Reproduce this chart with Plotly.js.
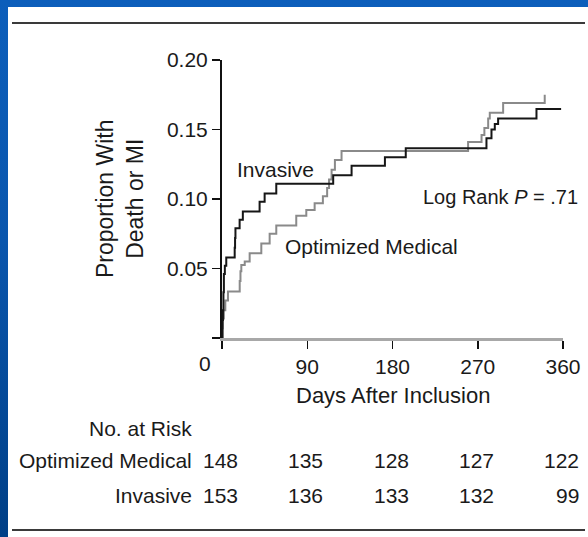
<!DOCTYPE html>
<html>
<head>
<meta charset="utf-8">
<script src="https://cdn.plot.ly/plotly-3.0.1.min.js"></script>
<style>
  html, body { margin: 0; padding: 0; }
  body { width: 588px; height: 537px; overflow: hidden;
         background: linear-gradient(180deg, #0c5ebb 0%, #0a56ad 45%, #003f86 100%); position: relative; }
  #chart { position: absolute; left: 8px; top: 7px; width: 580px; height: 530px; background: #fff; }
</style>
</head>
<body>
<div id="chart"></div>
<script>
// ---- data ----
const invasiveDays = [0, 0.5, 1, 1.5, 2, 3, 4.5, 13.4, 13.8, 14.2, 18.6, 22, 39.7, 45, 57.3, 117.4, 136.8, 172, 194, 279.2, 284.5, 288, 291.5, 332, 358];
const invasiveProp = [0, 0.013, 0.020, 0.033, 0.046, 0.052, 0.058, 0.065, 0.072, 0.079, 0.085, 0.091, 0.098, 0.104, 0.111, 0.117, 0.124, 0.130, 0.1365, 0.1437, 0.150, 0.154, 0.158, 0.1647, 0.1647];

const medicalDays = [0, 0.5, 1, 2, 3.5, 6.3, 18.7, 19.5, 20.4, 24, 29.2, 41.5, 50.3, 57.3, 78.4, 89, 97.8, 106.5, 111, 113, 115.7, 119.2, 126.2, 259.8, 274, 277, 281, 282.7, 296.8, 340.7, 340.7];
const medicalProp = [0, 0.007, 0.014, 0.020, 0.027, 0.0335, 0.041, 0.048, 0.0525, 0.055, 0.061, 0.068, 0.075, 0.081, 0.088, 0.092, 0.097, 0.102, 0.108, 0.114, 0.121, 0.128, 0.1345, 0.141, 0.146, 0.151, 0.158, 0.162, 0.169, 0.169, 0.175];

const xTickVals = [0, 90, 180, 270, 360];
const xTickText = ['', '90', '180', '270', '360'];
const yTickVals = [0, 0.05, 0.10, 0.15, 0.20];
const yTickText = ['', '0.05', '0.10', '0.15', '0.20'];

const riskGroups = ['Optimized Medical', 'Invasive'];
const riskMedical = [148, 135, 128, 127, 122];
const riskInvasive = [153, 136, 133, 132, 99];
const riskDays = [0, 90, 180, 270, 360];

// ---- layout geometry ----
const W = 580, H = 530;
const M = { l: 214, r: 25, t: 53, b: 199 };
const PW = W - M.l - M.r, PH = H - M.t - M.b;
const FONT = 'Liberation Sans, Arial, Helvetica, sans-serif';
const TXT = '#1a1a1a';
// page pixel -> paper coords (div offset 8,7)
const px = p => (p - 8 - M.l) / PW;
const py = p => (H - M.b - (p - 7)) / PH;

const traces = [
  { x: medicalDays, y: medicalProp, type: 'scatter', mode: 'lines', line: { shape: 'hv', color: '#8a8a8a', width: 2 }, hoverinfo: 'skip' },
  { x: invasiveDays, y: invasiveProp, type: 'scatter', mode: 'lines', line: { shape: 'hv', color: '#161616', width: 2 }, hoverinfo: 'skip' }
];

const ann = [];
function addText(text, opts) {
  ann.push(Object.assign({ text: text, showarrow: false, font: { family: FONT, size: 21, color: TXT } }, opts));
}
// labels inside the plot
addText('Invasive', { xref: 'x', yref: 'y', x: 56, y: 0.121, xanchor: 'center', yanchor: 'middle' });
addText('Optimized Medical', { xref: 'x', yref: 'y', x: 64.5, y: 0.0655, xanchor: 'left', yanchor: 'middle' });
addText('Log Rank <i>P</i> = .71', { xref: 'x', yref: 'y', x: 210, y: 0.1015, xanchor: 'left', yanchor: 'middle', font: { family: FONT, size: 20, color: TXT } });
// x "0" label (offset left of tick)
addText('0', { xref: 'x', yref: 'paper', x: 0, y: 0, xshift: -17, yshift: -25, xanchor: 'center', yanchor: 'middle' });
// axis titles
addText('Days After Inclusion', { xref: 'paper', yref: 'paper', x: 0.5, y: 0, yshift: -57, xanchor: 'center', yanchor: 'middle', font: { family: FONT, size: 22, color: TXT } });
addText('Proportion With<br>Death or MI', { xref: 'paper', yref: 'paper', x: 0, y: 0.5, xshift: -102, textangle: -90, xanchor: 'center', yanchor: 'middle', font: { family: FONT, size: 23, color: TXT } });
// risk table
addText('No. at Risk', { xref: 'x', yref: 'paper', x: 0, y: 0, xshift: -28, yshift: -90, xanchor: 'right', yanchor: 'middle' });
const rowShift = [-122, -157];
const rowVals = [riskMedical, riskInvasive];
riskGroups.forEach((g, i) => {
  addText(g, { xref: 'x', yref: 'paper', x: 0, y: 0, xshift: -28, yshift: rowShift[i], xanchor: 'right', yanchor: 'middle' });
  rowVals[i].forEach((v, j) => {
    addText(String(v), { xref: 'x', yref: 'paper', x: riskDays[j], y: 0, xshift: 18, yshift: rowShift[i], xanchor: 'right', yanchor: 'middle' });
  });
});

const layout = {
  width: W, height: H, margin: M,
  paper_bgcolor: '#ffffff', plot_bgcolor: '#ffffff',
  showlegend: false,
  font: { family: FONT, size: 21, color: TXT },
  xaxis: {
    range: [0, 360], tickvals: xTickVals, ticktext: xTickText,
    ticks: 'outside', ticklen: 8, tickwidth: 1.5, tickcolor: '#111',
    showline: true, linecolor: '#a8a8a8', linewidth: 3,
    showgrid: false, zeroline: false, fixedrange: true,
    tickfont: { family: FONT, size: 21, color: TXT }
  },
  yaxis: {
    range: [0, 0.2], tickvals: yTickVals, ticktext: yTickText,
    ticks: 'outside', ticklen: 8, tickwidth: 1.5, tickcolor: '#111',
    showline: true, linecolor: '#111', linewidth: 2,
    showgrid: false, zeroline: false, fixedrange: true,
    tickfont: { family: FONT, size: 21, color: TXT }
  },
  annotations: ann,
  shapes: [
    { type: 'line', xref: 'paper', yref: 'paper', x0: px(12), x1: px(585), y0: py(23), y1: py(23), line: { color: '#3a3a3a', width: 2 } },
    { type: 'line', xref: 'paper', yref: 'paper', x0: px(12), x1: px(585), y0: py(530), y1: py(530), line: { color: '#3a3a3a', width: 2 } }
  ]
};

Plotly.newPlot('chart', traces, layout, { displayModeBar: false, staticPlot: true });
</script>
</body>
</html>
